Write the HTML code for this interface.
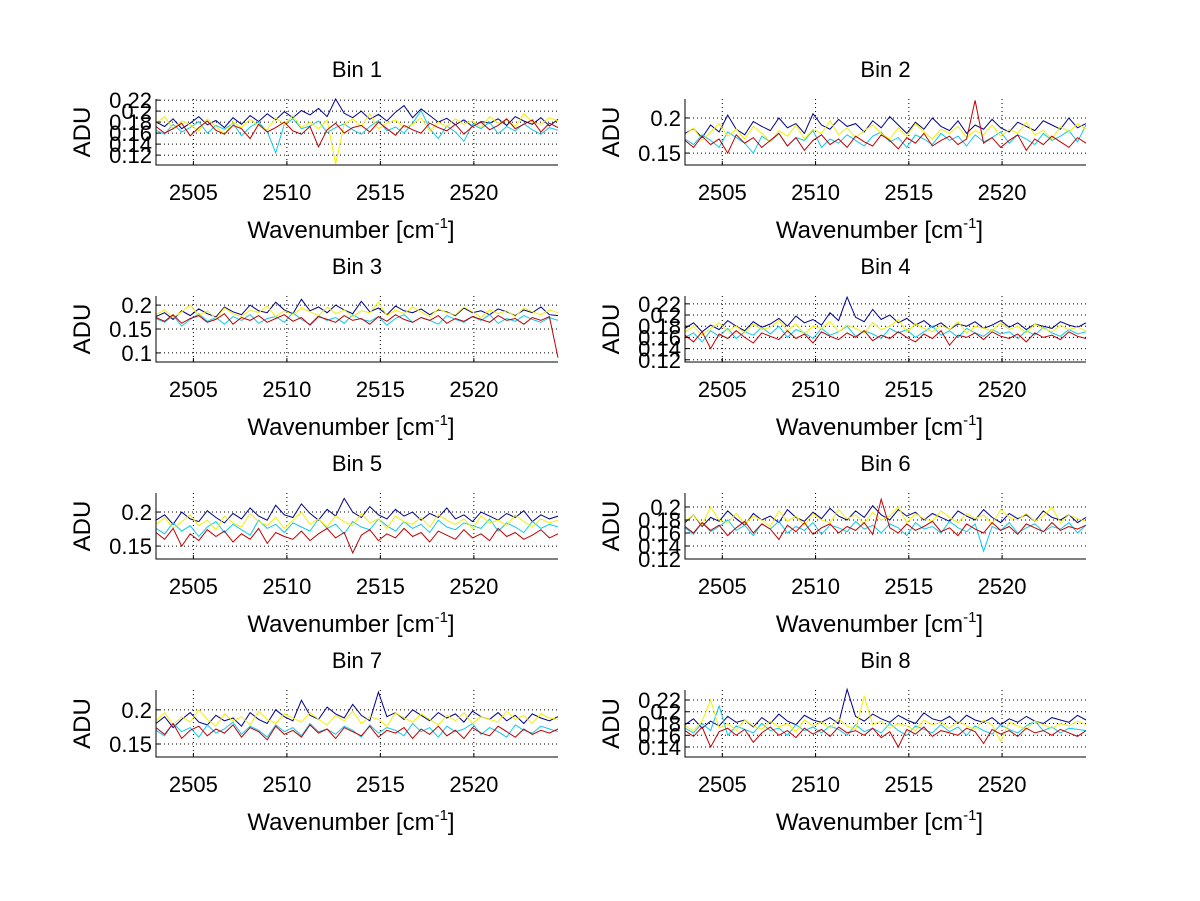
<!DOCTYPE html>
<html><head><meta charset="utf-8"><style>
html,body{margin:0;padding:0;background:#fff;}
svg{display:block;font-family:"Liberation Sans",Arial,sans-serif;}
</style></head><body>
<svg id="fig" width="1200" height="901" viewBox="0 0 1200 901" xmlns="http://www.w3.org/2000/svg"></svg>
<script>
// x range (wavenumber) and ticks
const xTicks = [2505, 2510, 2515, 2520];
const xMin = 2503.0, xMax = 2524.5;
// y-axis limits and ticks per bin
const yLims = [[0.102,0.222],[0.133,0.227],[0.081,0.219],[0.116,0.234],[0.131,0.228],[0.120,0.2215],[0.131,0.229],[0.123,0.237]];
const yTickSets = [[0.12,0.14,0.16,0.18,0.2,0.22],[0.15,0.2],[0.1,0.15,0.2],[0.12,0.14,0.16,0.18,0.2,0.22],[0.15,0.2],[0.12,0.14,0.16,0.18,0.2],[0.15,0.2],[0.14,0.16,0.18,0.2,0.22]];
const binTitles = ["Bin 1","Bin 2","Bin 3","Bin 4","Bin 5","Bin 6","Bin 7","Bin 8"];
const seriesColors = ["#00008f","#10c8f0","#f4f000","#c00000"];
// series values (ADU x 1000), order: blue, cyan, yellow, red
const bin1Blue = [180,172,186,168,178,190,175,183,170,188,176,192,181,195,184,199,188,201,193,205,190,222,196,188,200,185,194,182,198,210,188,204,192,180,187,175,184,172,181,178,186,174,190,182,176,188,173,185];
const bin1Cyan = [165,158,176,162,170,181,160,174,167,178,155,171,180,163,124,176,186,168,173,182,161,170,177,166,158,172,183,164,171,160,178,201,168,150,173,162,145,176,168,180,159,172,164,177,166,158,170,165];
const bin1Yellow = [178,190,168,182,175,164,186,172,158,180,170,185,174,166,188,176,192,170,180,168,184,104,176,186,172,195,168,178,184,170,176,188,164,180,172,186,176,182,170,190,178,184,172,195,180,176,188,182];
const bin1Red = [172,160,168,178,155,170,182,165,158,174,168,150,176,162,170,180,164,158,172,135,166,178,160,170,174,162,180,168,156,174,166,160,178,170,164,176,158,172,180,166,174,186,168,176,184,162,178,170];
const bin2Blue = [178,185,172,190,180,204,184,176,195,188,182,200,186,192,178,206,190,184,198,188,192,180,196,186,202,190,178,194,184,200,188,182,196,178,190,184,198,186,180,194,188,182,196,190,184,200,186,192];
const bin2Cyan = [170,162,176,168,158,180,172,164,150,174,166,178,160,172,168,182,158,170,164,176,168,160,174,180,166,172,158,176,170,162,178,168,174,160,176,166,172,180,164,176,170,162,178,168,174,182,166,190];
const bin2Yellow = [176,186,168,180,192,174,184,170,188,178,166,182,174,190,170,184,178,196,176,186,172,182,190,178,170,186,174,192,180,170,184,178,188,172,182,176,190,174,184,178,194,176,182,170,188,180,192,184];
const bin2Red = [168,158,174,162,170,150,176,164,172,158,168,178,160,172,154,168,176,162,170,158,174,166,160,176,168,156,172,164,178,160,168,174,162,170,225,164,172,158,168,176,154,170,162,174,166,158,172,164];
const bin3Blue = [176,184,170,188,178,192,182,175,196,186,180,200,188,184,206,190,182,212,188,196,184,200,190,182,208,186,194,180,198,188,184,192,180,190,186,178,194,184,188,180,192,186,178,190,184,196,180,178];
const bin3Cyan = [172,164,178,156,170,182,166,174,160,176,168,180,162,172,176,164,184,170,160,178,168,174,162,180,170,166,176,158,172,180,164,174,168,160,178,170,164,176,168,180,162,172,166,178,170,164,174,168];
const bin3Yellow = [180,190,174,186,200,178,188,172,194,182,176,190,184,198,176,188,180,194,186,178,196,182,190,176,188,184,206,178,190,182,196,186,176,192,184,180,196,186,174,190,182,188,176,194,186,180,190,184];
const bin3Red = [174,166,180,162,172,178,164,170,182,160,174,168,178,164,172,180,166,174,158,176,170,164,178,168,172,160,176,166,180,170,164,174,168,178,162,172,166,176,170,164,178,168,172,160,174,168,176,90];
const bin4Blue = [176,186,170,182,174,190,180,172,188,178,184,194,180,198,186,192,182,204,190,232,196,188,210,192,200,186,194,182,190,178,186,174,184,180,188,176,182,190,178,186,174,184,180,176,188,182,178,186];
const bin4Cyan = [160,168,152,172,162,176,158,170,164,178,166,180,160,174,168,158,176,164,170,180,162,172,166,158,176,168,174,160,170,180,164,172,160,176,168,162,174,166,170,158,172,164,178,168,162,174,166,170];
const bin4Yellow = [170,180,164,176,186,172,180,168,184,174,178,190,172,184,166,180,176,188,170,182,176,168,186,174,180,192,170,184,176,170,182,174,188,168,180,176,172,186,174,180,168,184,176,170,182,174,178,172];
const bin4Red = [164,152,170,140,166,158,172,160,150,168,162,156,172,158,166,150,170,162,156,168,160,172,154,164,158,170,160,152,166,158,172,146,164,160,168,156,170,162,158,166,152,168,160,164,156,170,162,158];
const bin5Blue = [188,196,182,200,190,186,202,192,184,198,190,206,194,188,210,196,192,212,198,188,204,194,220,200,192,208,196,190,204,194,200,188,198,192,206,190,196,186,200,194,188,198,192,202,186,196,190,194];
const bin5Cyan = [176,168,184,172,180,164,178,186,170,182,174,166,188,176,182,170,184,178,172,190,176,182,168,186,178,174,190,180,172,186,176,182,170,188,178,174,184,180,176,190,172,184,178,170,186,176,182,178];
const bin5Yellow = [182,192,176,186,196,180,188,174,194,184,178,198,186,180,192,176,188,200,182,190,178,194,186,180,198,184,190,176,194,186,182,192,178,196,188,182,190,176,194,184,188,180,196,186,178,190,184,188];
const bin5Red = [170,160,176,150,168,158,174,164,172,156,168,160,176,154,170,164,160,172,158,168,176,162,170,140,166,174,158,168,162,176,164,170,156,172,166,160,174,162,168,158,176,164,170,160,166,174,162,168];
const bin6Blue = [176,188,170,184,178,194,182,172,190,180,186,176,196,184,178,192,182,198,186,180,194,184,202,188,180,196,186,192,180,190,184,178,194,186,180,196,184,176,190,182,188,178,194,184,180,188,176,184];
const bin6Cyan = [168,158,176,162,170,180,164,172,156,174,166,178,160,170,164,176,158,172,168,162,178,166,172,160,174,168,156,176,166,170,160,178,168,162,174,132,170,164,176,160,168,174,162,170,166,176,160,172];
const bin6Yellow = [178,188,172,200,180,176,190,174,186,180,170,194,178,186,172,190,180,176,196,182,188,174,192,180,186,200,176,190,182,178,194,184,176,190,182,188,174,196,184,180,190,178,186,200,176,188,182,178];
const bin6Red = [170,160,176,164,172,156,168,178,160,174,166,150,172,162,176,158,168,174,160,170,164,176,158,212,168,160,174,164,170,178,162,168,156,174,166,160,176,164,170,158,174,168,162,176,164,170,166,172];
const bin7Blue = [180,190,174,186,196,182,178,192,184,188,176,196,186,180,200,190,184,214,192,186,204,194,188,208,192,184,226,190,196,186,200,192,184,196,188,194,182,198,190,186,196,184,192,180,194,188,184,190];
const bin7Cyan = [170,162,180,168,174,160,178,166,172,182,164,176,170,160,178,168,174,162,180,168,172,164,176,170,160,178,166,174,170,162,180,168,174,160,176,168,172,180,164,174,168,160,178,170,166,176,172,168];
const bin7Yellow = [184,196,178,190,182,200,186,176,194,184,190,178,198,186,180,194,188,182,196,186,178,192,184,198,180,190,186,176,196,188,182,194,186,178,192,184,196,180,190,186,182,198,186,192,180,194,188,186];
const bin7Red = [174,164,180,158,170,176,162,172,166,178,160,174,168,156,176,164,170,160,178,166,172,158,174,168,162,176,160,170,166,174,158,172,164,176,162,170,158,174,166,162,176,168,160,172,164,170,166,172];
const bin8Blue = [178,188,172,184,176,192,182,186,174,190,180,196,184,178,194,186,182,190,180,238,192,184,196,188,182,194,186,180,198,188,184,192,180,194,186,182,190,178,188,182,192,184,180,190,186,182,194,186];
const bin8Cyan = [172,164,180,168,210,160,176,170,164,180,168,172,160,178,168,174,164,176,170,160,178,166,172,164,180,168,160,176,170,164,178,166,174,160,176,168,162,178,170,164,176,184,168,174,164,172,170,168];
const bin8Yellow = [176,168,184,220,172,180,168,186,176,170,184,174,180,166,186,176,182,172,188,176,170,226,178,184,172,180,176,168,186,178,182,172,184,176,170,186,178,150,182,176,170,184,178,172,180,176,184,178];
const bin8Red = [168,158,174,140,166,172,160,170,148,164,174,160,168,156,172,162,170,158,174,164,168,160,172,156,166,140,170,162,174,158,168,164,160,172,166,146,170,162,168,158,172,164,168,160,170,164,158,168];

const allSeries = [
  [bin1Blue,bin1Cyan,bin1Yellow,bin1Red],[bin2Blue,bin2Cyan,bin2Yellow,bin2Red],
  [bin3Blue,bin3Cyan,bin3Yellow,bin3Red],[bin4Blue,bin4Cyan,bin4Yellow,bin4Red],
  [bin5Blue,bin5Cyan,bin5Yellow,bin5Red],[bin6Blue,bin6Cyan,bin6Yellow,bin6Red],
  [bin7Blue,bin7Cyan,bin7Yellow,bin7Red],[bin8Blue,bin8Cyan,bin8Yellow,bin8Red]];
const colorNames = ["blue","cyan","yellow","red"];

const NS = "http://www.w3.org/2000/svg";
const svg = document.getElementById("fig");
function mk(tag, attrs, parent){const e=document.createElementNS(NS,tag);for(const k in attrs)e.setAttribute(k,attrs[k]);parent.appendChild(e);return e;}

const colX = [[156,558],[685,1086]];
const rowY = [[99,165],[296,362],[493,559],[690,757]];

for(let b=0;b<8;b++){
  const [x0,x1]=colX[b%2], [y0,y1]=rowY[Math.floor(b/2)];
  const [ymin,ymax]=yLims[b];
  const sx=v=>x0+(v-xMin)/(xMax-xMin)*(x1-x0);
  const sy=v=>y1-(v-ymin)/(ymax-ymin)*(y1-y0);
  const g=mk("g",{},svg);
  
  
  xTicks.forEach(t=>{const l=mk("line",{x1:sx(t),x2:sx(t),y1:y0,y2:y1,stroke:"#000","stroke-width":1,"stroke-dasharray":"1,3"},g);
    });
  yTickSets[b].forEach(t=>{const l=mk("line",{x1:x0,x2:x1,y1:sy(t),y2:sy(t),stroke:"#000","stroke-width":1,"stroke-dasharray":"1,3"},g);
    });
  allSeries[b].forEach((arr,si)=>{
    const n=arr.length;
    const pts=arr.map((v,i)=>sx(xMin+(xMax-xMin)*i/(n-1)).toFixed(1)+","+Math.max(y0-6,Math.min(y1+3,sy(v/1000))).toFixed(1)).join(" ");
    const p=mk("polyline",{points:pts,fill:"none",stroke:seriesColors[si],"stroke-width":1},g);
    
    
  });
  const ax=mk("path",{d:`M${x0},${y0}V${y1}H${x1}`,fill:"none",stroke:"#000","stroke-width":1},g);
  
  xTicks.forEach(t=>{const x=sx(t);mk("line",{x1:x,x2:x,y1:y1,y2:y1-4,stroke:"#000"},g);
    const tx=mk("text",{x:x,y:y1+35,"font-size":22,"text-anchor":"middle"},g);tx.textContent=t;
    });
  yTickSets[b].forEach(t=>{const y=sy(t);mk("line",{x1:x0,x2:x0+4,y1:y,y2:y,stroke:"#000"},g);
    const tx=mk("text",{x:x0-4,y:y+8,"font-size":22,"text-anchor":"end"},g);tx.textContent=String(t);
    });
  const ti=mk("text",{x:(x0+x1)/2,y:y0-22,"font-size":22,"text-anchor":"middle"},g);ti.textContent=binTitles[b];
  
  const xl=mk("text",{x:(x0+x1)/2-6,y:y1+73,"font-size":24,"text-anchor":"middle"},g);
  xl.innerHTML='Wavenumber [cm<tspan dy="-10" font-size="15">-1</tspan><tspan dy="10">]</tspan>';
  
  const yl=mk("text",{x:0,y:0,"font-size":24,"text-anchor":"middle",transform:`translate(${x0-66},${(y0+y1)/2}) rotate(-90)`},g);
  yl.textContent="ADU";
  
}
</script>
</body></html>
